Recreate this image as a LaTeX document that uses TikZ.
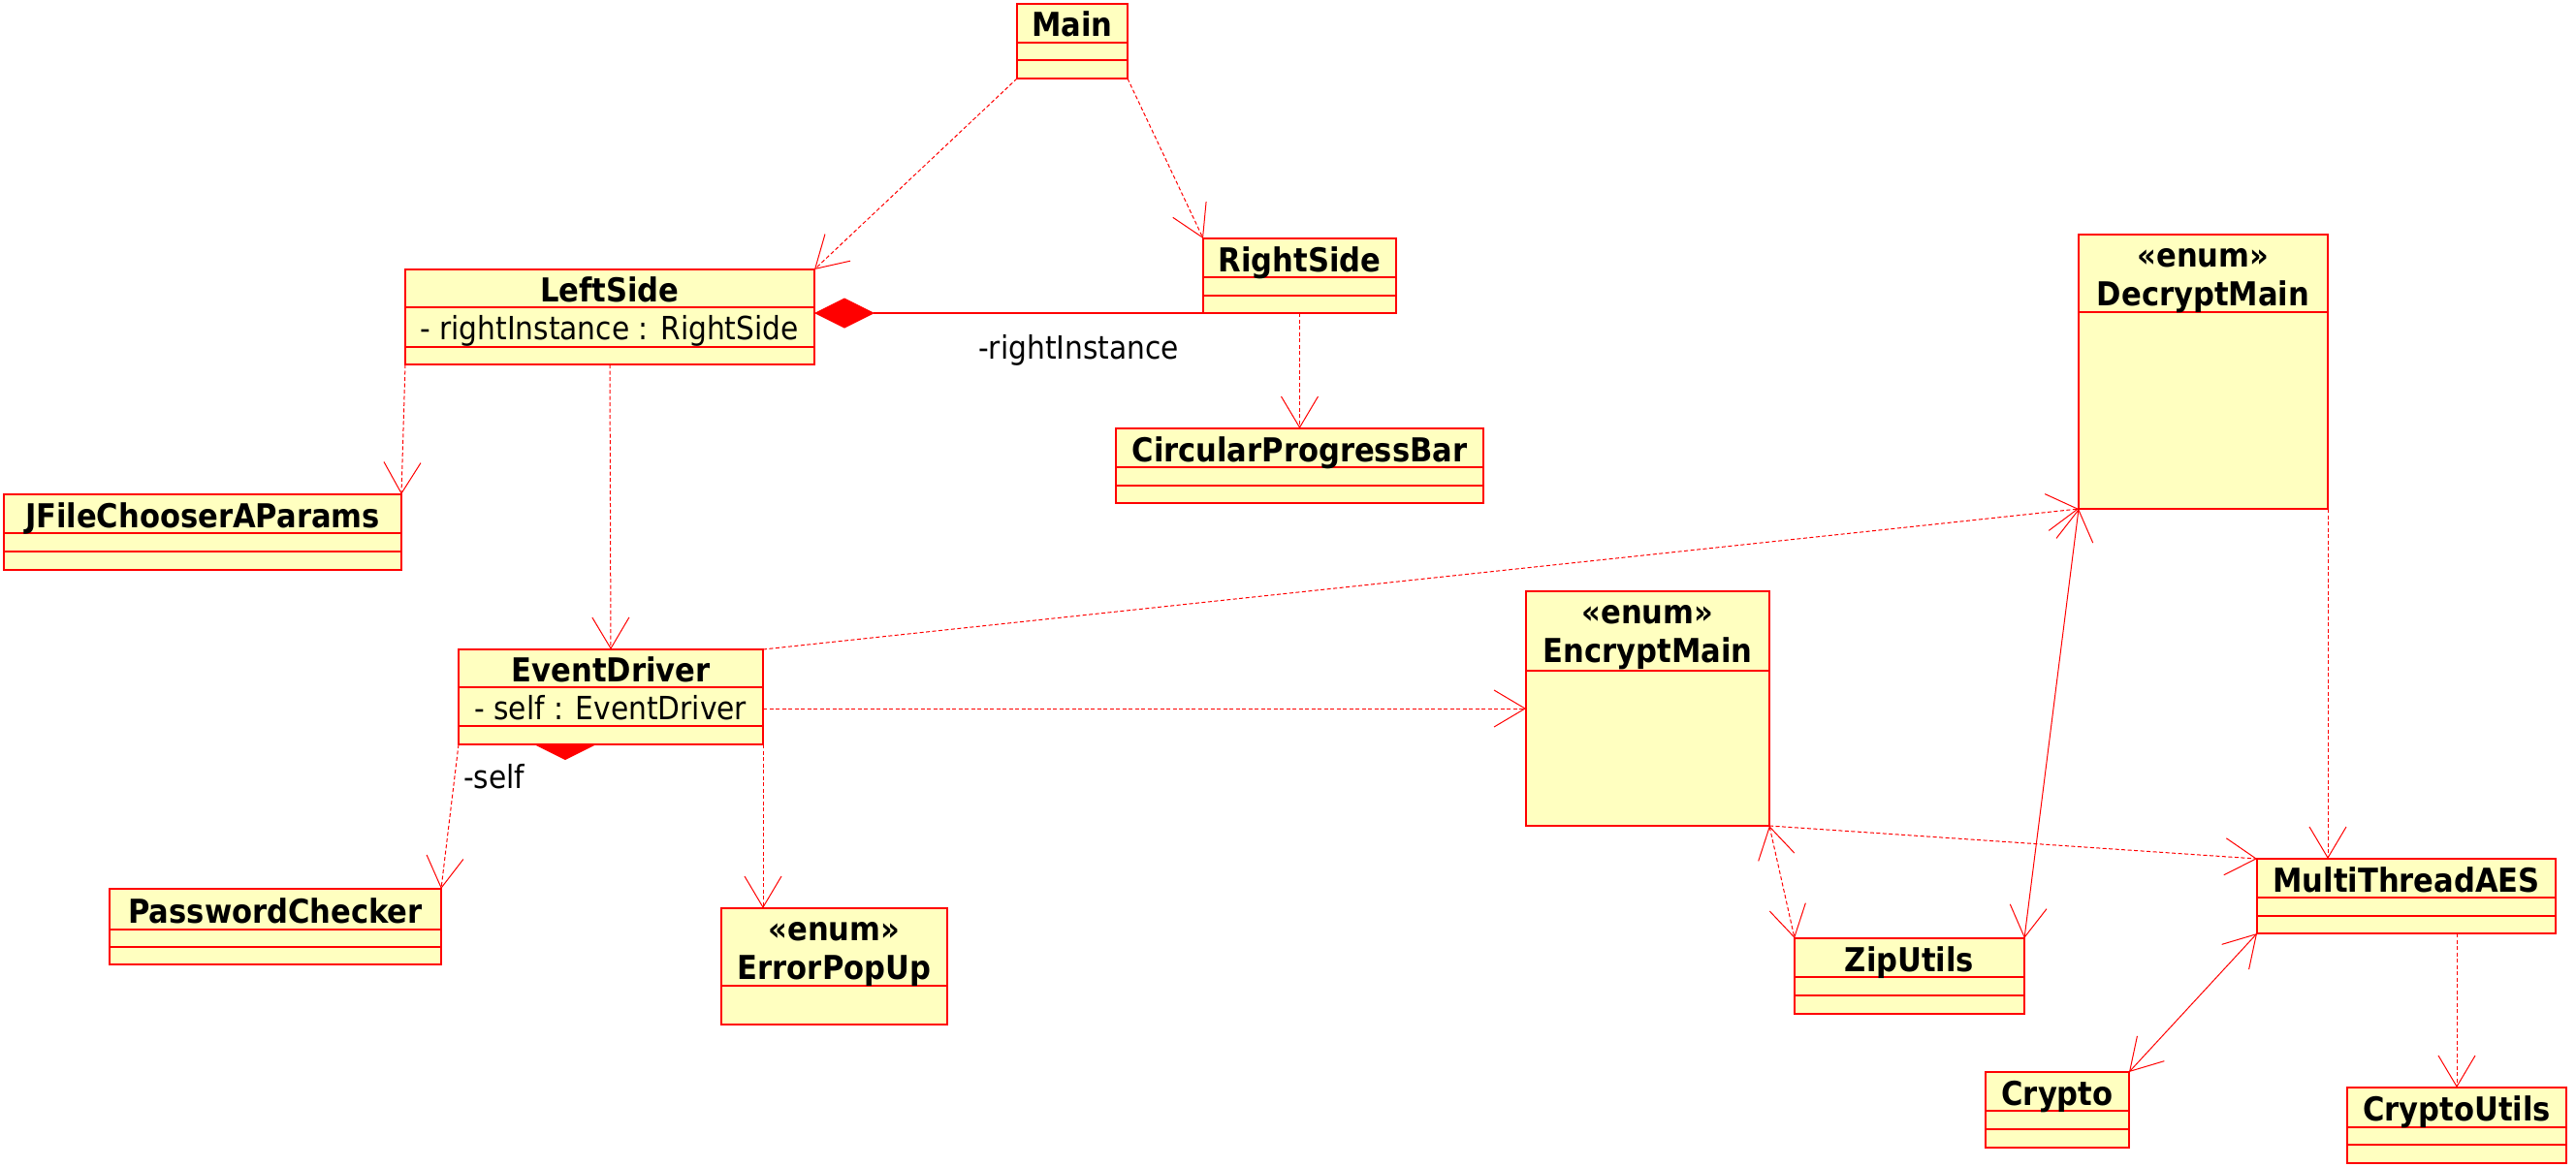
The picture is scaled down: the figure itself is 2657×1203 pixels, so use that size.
\documentclass[tikz,border=0pt]{standalone}
\usepackage{fontspec}
\setmainfont{DejaVu Sans Condensed}
\usetikzlibrary{arrows.meta}
\definecolor{umlfill}{RGB}{255,255,192}
\definecolor{umlred}{RGB}{255,0,0}
\newcommand{\umlbox}[6]{%
  \node[clsbox, minimum width={(#4-#2)*1pt}, minimum height={(#5-#3)*1pt}] (#1) at ({(#2+#4)/2},{(#3+#5)/2}) {};
  \foreach \dd in {#6} {\draw[divline] (#2,\dd) -- (#4,\dd);}
}
\tikzset{
  clsbox/.style={rectangle, draw=umlred, fill=umlfill, line width=1.5pt, inner sep=0pt, outer sep=0pt},
  divline/.style={draw=umlred, line width=1.5pt},
  ctitle/.style={font=\fontsize{34}{40}\selectfont\bfseries, inner sep=0pt, anchor=base, text=black},
  cattr/.style={font=\fontsize{33}{40}\selectfont, inner sep=0pt, anchor=base west, text=black},
  rolelabel/.style={font=\fontsize{33}{40}\selectfont, inner sep=0pt, anchor=base west, text=black},
  dep/.style={draw=umlred, line width=1pt, dash pattern=on 4pt off 2.5pt,
    -{Straight Barb[length=32pt,width=38pt,line width=1pt]}},
  depboth/.style={draw=umlred, line width=1pt, dash pattern=on 4pt off 2.5pt,
    {Straight Barb[length=32pt,width=38pt,line width=1pt]}-{Straight Barb[length=32pt,width=38pt,line width=1pt]}},
  assocboth/.style={draw=umlred, line width=1pt,
    {Straight Barb[length=32pt,width=38pt,line width=1pt]}-{Straight Barb[length=32pt,width=38pt,line width=1pt]}},
  comp/.style={draw=umlred, line width=1.2pt, {Diamond[length=62pt,width=31pt,fill=umlred,line width=0.5pt]}-},
}
\begin{document}
\begin{tikzpicture}[x=1pt,y=-1pt]
\useasboundingbox (0,0) rectangle (2657,1203);

% class boxes
\umlbox{main}{1049}{4}{1163}{81}{44,62}
\umlbox{leftside}{418}{278}{840}{376}{317,358}
\umlbox{rightside}{1241}{246}{1440}{323}{286,305}
\umlbox{cpb}{1151}{442}{1530}{519}{482,501}
\umlbox{jfc}{4}{510}{414}{588}{550,569}
\umlbox{eventdriver}{473}{670}{787}{768}{709,749}
\umlbox{passwordchecker}{113}{917}{455}{995}{959,977}
\umlbox{errorpopup}{744}{937}{977}{1057}{1017}
\umlbox{decryptmain}{2144}{242}{2401}{525}{322}
\umlbox{encryptmain}{1574}{610}{1825}{852}{692}
\umlbox{mta}{2328}{886}{2636}{963}{926,945}
\umlbox{ziputils}{1851}{968}{2088}{1046}{1008,1027}
\umlbox{crypto}{2048}{1106}{2196}{1184}{1146,1165}
\umlbox{cryptoutils}{2421}{1122}{2647}{1200}{1163,1181}

% titles
\node[ctitle] (main-t) at (1106,37) {Main};
\node[ctitle] (leftside-t) at (629,311) {LeftSide};
\node[ctitle] (rightside-t) at (1340.5,280) {RightSide};
\node[ctitle] (cpb-t) at (1340.5,476) {CircularProgressBar};
\node[ctitle] (jfc-t) at (209,544) {JFileChooserAParams};
\node[ctitle] (eventdriver-t) at (630,703) {EventDriver};
\node[ctitle] (passwordchecker-t) at (284,952) {PasswordChecker};
\node[ctitle] (errorpopup-s) at (860.5,970) {«enum»};
\node[ctitle] (errorpopup-t) at (860.5,1010) {ErrorPopUp};
\node[ctitle] (decryptmain-s) at (2272.5,275) {«enum»};
\node[ctitle] (decryptmain-t) at (2272.5,315) {DecryptMain};
\node[ctitle] (encryptmain-s) at (1699.5,643) {«enum»};
\node[ctitle] (encryptmain-t) at (1699.5,683) {EncryptMain};
\node[ctitle] (mta-t) at (2482,920) {MultiThreadAES};
\node[ctitle] (ziputils-t) at (1969.5,1002) {ZipUtils};
\node[ctitle] (crypto-t) at (2122,1140) {Crypto};
\node[ctitle] (cryptoutils-t) at (2534,1156) {CryptoUtils};

% attributes
\node[cattr] (leftside-a) at (433,350) {- rightInstance : RightSide};
\node[cattr] (eventdriver-a) at (489,742) {- self : EventDriver};

% connectors
\draw[dep] (main.south west) -- (leftside.north east);
\draw[dep] (main.south east) -- (rightside.north west);
\draw[comp] (leftside.east |- rightside.south west) -- (rightside.south west);
\draw[dep] (rightside.south) -- (cpb.north);
\draw[dep] (leftside.south west) -- (jfc.north east);
\draw[dep] (leftside.south) -- (eventdriver.north);
\draw[dep] (eventdriver.north east) -- (decryptmain.south west);
\draw[dep] (eventdriver.east |- encryptmain.west) -- (encryptmain.west);
\draw[dep] (eventdriver.south west) -- (passwordchecker.north east);
\draw[dep] (eventdriver.south east) -- (eventdriver.south east |- errorpopup.north);
\draw[dep] (decryptmain.south east) -- (decryptmain.south east |- mta.north);
\draw[dep] (encryptmain.south east) -- (mta.north west);
\draw[depboth] (encryptmain.south east) -- (ziputils.north west);
\draw[assocboth] (decryptmain.south west) -- (ziputils.north east);
\draw[assocboth] (mta.south west) -- (crypto.north east);
\draw[dep] (mta.south -| cryptoutils.north) -- (cryptoutils.north);

% self composition diamond on EventDriver
\fill[umlred] (553,769) -- (613,769) -- (583,784) -- cycle;

% role labels
\node[rolelabel] (role-right) at (1009,370) {-rightInstance};
\node[rolelabel] (role-self) at (478,813) {-self};
\end{tikzpicture}
\end{document}
